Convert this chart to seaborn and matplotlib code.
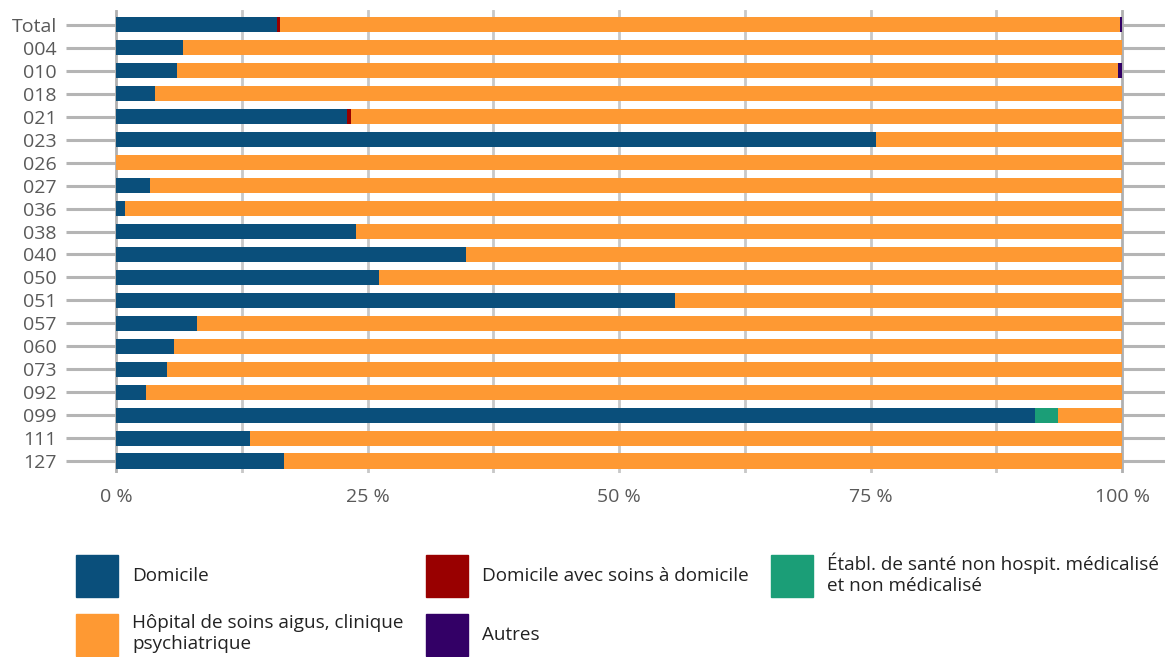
import matplotlib
matplotlib.use("Agg")
import matplotlib.pyplot as plt
import matplotlib.patches as mpatches
import seaborn as sns
import numpy as np
import pandas as pd

categories = ["Total", "004", "010", "018", "021", "023", "026", "027", "036", "038",
              "040", "050", "051", "057", "060", "073", "092", "099", "111", "127"]
domicile = [16.0, 6.7, 6.1, 3.9, 23.0, 75.5, 0.0, 3.4, 0.9, 23.9,
            34.8, 26.1, 55.6, 8.1, 5.8, 5.1, 3.0, 91.4, 13.3, 16.7]
domicile_soins = [0.3, 0, 0, 0, 0.4, 0, 0, 0, 0, 0,
                  0, 0, 0, 0, 0, 0, 0, 0, 0, 0]
etabl = [0, 0, 0, 0, 0, 0, 0, 0, 0, 0,
         0, 0, 0, 0, 0, 0, 0, 2.2, 0, 0]
autres = [0.15, 0, 0.4, 0, 0, 0, 0, 0, 0, 0,
          0, 0, 0, 0, 0, 0, 0, 0, 0, 0]
hopital = [100 - a - b - c - d for a, b, c, d in zip(domicile, domicile_soins, etabl, autres)]

series_names = ["Domicile", "Domicile avec soins à domicile",
                "Établ. de santé non hospit. médicalisé\net non médicalisé",
                "Hôpital de soins aigus, clinique\npsychiatrique", "Autres"]
colors = ["#0a4f7b", "#990000", "#1b9e77", "#fe9933", "#330066"]
xticks = [0, 25, 50, 75, 100]
xtick_labels = ["0 %", "25 %", "50 %", "75 %", "100 %"]

df = pd.DataFrame({"cat": categories, "s0": domicile, "s1": domicile_soins,
                   "s2": etabl, "s3": hopital, "s4": autres})
cum = df[["s0", "s1", "s2", "s3", "s4"]].cumsum(axis=1)

sns.set_theme(style="white")
plt.rcParams["font.family"] = ["Open Sans", "DejaVu Sans"]

fig = plt.figure(figsize=(11.65, 6.57), dpi=100)
ax = fig.add_axes([66 / 1165, 1 - 473 / 657, 1 - 66 / 1165, (473 - 10) / 657])

xmin = -50 / 1006 * 100
xmax = (1165 - 116) / 1006 * 100

# horizontal category lines (look like long ticks on both sides)
for i in range(len(categories)):
    ax.plot([xmin, xmax], [i, i], color="#b5b5b5", lw=2.2, zorder=0, solid_capstyle="butt")
# vertical gridlines every 12.5 %
for v in np.arange(0, 100.01, 12.5):
    c = "#b0b0b0" if v in (0, 100) else "#c8c8c8"
    ax.axvline(v, color=c, lw=2.0, zorder=0.5)

for k in range(4, -1, -1):
    sns.barplot(data=cum, x="s%d" % k, y=df["cat"], orient="h", color=colors[k],
                width=0.66, ax=ax, saturation=1, zorder=2, edgecolor="none", linewidth=0)

ax.set_xlim(xmin, xmax)
ax.set_ylim(19.52, -0.65)
ax.set_xticks(xticks)
ax.set_xticklabels(xtick_labels)
ax.set_xlabel("")
ax.set_ylabel("")
ax.tick_params(axis="both", length=0, labelsize=14, labelcolor="#595959")
ax.tick_params(axis="y", pad=6.5)
ax.tick_params(axis="x", pad=11)
for s in ax.spines.values():
    s.set_visible(False)
ax.grid(False)

order = [0, 3, 1, 4, 2]
handles = [mpatches.Patch(color=colors[i], label=series_names[i]) for i in order]
fig.legend(handles=handles, loc="upper left", bbox_to_anchor=(76 / 1165, 1 - 553 / 657),
           ncol=3, frameon=False, fontsize=13.6, handlelength=2.22, handleheight=3.04,
           handletextpad=0.74, columnspacing=1.2, labelspacing=0.9, labelcolor="#222222",
           borderaxespad=0, borderpad=0)

fig.savefig("out.png", dpi=100)
